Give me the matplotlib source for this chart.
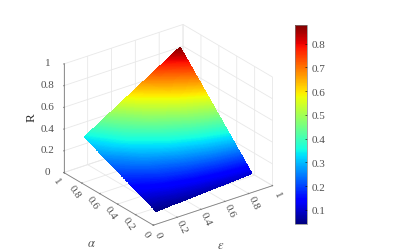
import numpy as np
import matplotlib
matplotlib.use('Agg')
import matplotlib.pyplot as plt

plt.rcParams['font.family'] = ['Liberation Serif', 'DejaVu Serif']
plt.rcParams['mathtext.fontset'] = 'stix'

epsilon = [0.1, 0.3, 0.5, 0.7, 0.9]
alpha = [0.1, 0.3, 0.5, 0.7, 0.9]
R = [[0.045, 0.059, 0.072, 0.086, 0.100],
     [0.119, 0.162, 0.206, 0.250, 0.293],
     [0.192, 0.266, 0.340, 0.413, 0.487],
     [0.266, 0.369, 0.473, 0.576, 0.680],
     [0.340, 0.473, 0.606, 0.740, 0.873]]
ticks = [0, 0.2, 0.4, 0.6, 0.8, 1]
tick_labels = ['0', '0.2', '0.4', '0.6', '0.8', '1']
cbar_ticks = [0.1, 0.2, 0.3, 0.4, 0.5, 0.6, 0.7, 0.8]
gray = '#505050'

fig = plt.figure(figsize=(3.93, 2.53), dpi=100)
ax = fig.add_axes([47 / 393, 6 / 253, 236 / 393, 236 / 253], projection='3d', proj_type='ortho')
ax.view_init(elev=26.2, azim=-126.9)
ax.set_box_aspect((1.232, 1.232, 1))

X, Y = np.meshgrid(epsilon, alpha)
Z = np.array(R)
levels = np.linspace(0.04, 0.878, 300)
cs = ax.contourf(X, Y, Z, levels=levels, cmap='jet', antialiased=False)
cs.set_edgecolor('face')
cs.set_linewidth(0.3)

ax.set_xlim(0, 1)
ax.set_ylim(0, 1)
ax.set_zlim(0, 1)
ax.set_xticks(ticks)
ax.set_yticks(ticks)
ax.set_zticks(ticks)
ax.set_xticklabels(tick_labels, fontsize=8, color=gray, rotation=-65, ha='center', va='center')
ax.set_yticklabels(tick_labels, fontsize=8, color=gray, rotation=-55, ha='center', va='center')
ax.set_zticklabels(tick_labels, fontsize=8, color=gray, va='center')
ax.tick_params(pad=-3, width=0.5, color='#808080')
ax.tick_params(axis='z', pad=-1)
for a in (ax.xaxis, ax.yaxis, ax.zaxis):
    a.set_pane_color((1, 1, 1, 0))
    a.line.set_color('#808080')
    a.line.set_linewidth(0.6)
    a._axinfo['grid']['color'] = '#e8e8e8'
    a._axinfo['grid']['linewidth'] = 0.6
    a._axinfo['tick']['inward_factor'] = 0.0
    a._axinfo['tick']['outward_factor'] = 0.05

fig.text(221 / 393, 1 - 246 / 253, r'$\epsilon$', fontsize=9, color=gray, ha='center', va='center')
fig.text(91 / 393, 1 - 244 / 253, r'$\alpha$', fontsize=9, color=gray, ha='center', va='center')
fig.text(32 / 393, 1 - 118 / 253, 'R', fontsize=9.5, color='#303030', rotation=90, ha='center', va='center')

cax = fig.add_axes([295 / 393, 1 - 225 / 253, 12 / 393, 199 / 253])
sm = plt.cm.ScalarMappable(cmap='jet', norm=plt.Normalize(0.04, 0.878))
cb = fig.colorbar(sm, cax=cax, ticks=cbar_ticks)
cb.ax.set_yticklabels(['0.1', '0.2', '0.3', '0.4', '0.5', '0.6', '0.7', '0.8'], fontsize=8, color=gray)
cb.ax.tick_params(length=1.5, width=0.4, direction='in', pad=3)
cb.outline.set_linewidth(0.5)
cb.outline.set_edgecolor('#808080')

fig.savefig('out.png', dpi=100)
